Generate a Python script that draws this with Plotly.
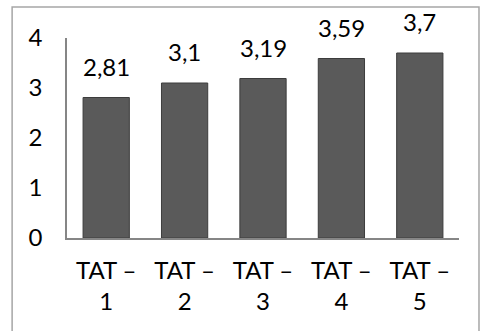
import plotly.graph_objects as go

categories = ["TAT –<br>1", "TAT –<br>2", "TAT –<br>3", "TAT –<br>4", "TAT –<br>5"]
values = [2.81, 3.1, 3.19, 3.59, 3.7]
labels = [str(v).replace(".", ",") for v in values]
y_ticks = [0, 1, 2, 3, 4]

FONT = "Lato"
FS = 24
fig = go.Figure()
fig.add_trace(go.Bar(
    x=categories, y=values,
    marker=dict(color="#5a5a5a", line=dict(color="#3c3c3c", width=1)),
    width=0.59,
))
for c, v, t in zip(categories, values, labels):
    fig.add_annotation(x=c, y=v, text=t, showarrow=False, yanchor="bottom",
                       yshift=15, font=dict(family=FONT, size=FS, color="#000"))

fig.add_shape(type="rect", xref="paper", yref="paper",
              x0=-0.140, x1=1.051, y0=-0.48, y1=1.155,
              line=dict(color="#a6a6a6", width=1.5), layer="below")

fig.update_layout(
    width=481, height=331,
    margin=dict(l=67, r=22, t=38, b=93),
    paper_bgcolor="white", plot_bgcolor="white",
    showlegend=False,
    font=dict(family=FONT, size=FS, color="#000"),
    xaxis=dict(showline=True, linecolor="#868686", linewidth=1.5, ticks="",
               ticklabelstandoff=10,
               tickfont=dict(family=FONT, size=FS), showgrid=False),
    yaxis=dict(range=[0, 4], tickvals=y_ticks, showline=True, linecolor="#868686",
               linewidth=1.5, ticks="", showgrid=False, zeroline=False,
               ticklabelstandoff=18, tickfont=dict(family=FONT, size=FS)),
)
fig.write_html("out.html")
